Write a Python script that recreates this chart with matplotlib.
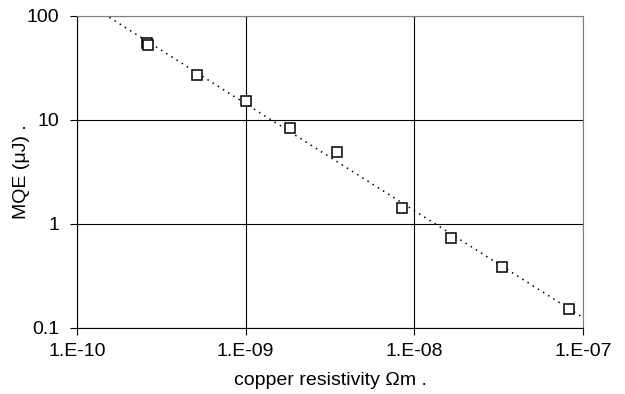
import numpy as np
import matplotlib
matplotlib.use('Agg')
import matplotlib.pyplot as plt

plt.rcParams['font.family'] = ['Liberation Sans', 'DejaVu Sans']

# copper resistivity (Ohm m) vs minimum quench energy (uJ)
resistivity = [2.6e-10, 2.63e-10, 5.15e-10, 1.01e-9, 1.83e-9, 3.49e-9,
               8.45e-9, 1.66e-8, 3.33e-8, 8.26e-8]
mqe = [54.5, 52.5, 27.3, 15.2, 8.4, 4.9, 1.43, 0.74, 0.386, 0.153]

x_ticks = [1e-10, 1e-9, 1e-8, 1e-7]
x_labels = ['1.E-10', '1.E-09', '1.E-08', '1.E-07']
y_ticks = [0.1, 1, 10, 100]
y_labels = ['0.1', '1', '10', '100']

# power law trend line (fit in log space)
b, a = np.polyfit(np.log10(resistivity), np.log10(mqe), 1)
xt = np.logspace(np.log10(1.45e-10), -7, 50)
yt = 10 ** (a + b * np.log10(xt))

fig = plt.figure(figsize=(6.25, 3.94), dpi=100)
ax = fig.add_axes([77 / 625, 1 - 328 / 394, (583 - 77) / 625, (328 - 16) / 394])

ax.plot(xt, yt, color='black', linestyle=(0, (1, 3)), linewidth=1.1)
ax.plot(resistivity, mqe, linestyle='none', marker='s', markersize=7,
        markerfacecolor='white', markeredgecolor='black', markeredgewidth=1.1)

ax.set_xscale('log')
ax.set_yscale('log')
ax.set_xlim(1e-10, 1e-7)
ax.set_ylim(0.1, 100)
ax.set_xticks(x_ticks)
ax.set_xticklabels(x_labels)
ax.set_yticks(y_ticks)
ax.set_yticklabels(y_labels)
ax.minorticks_off()
ax.grid(True, color='black', linewidth=0.8)
ax.set_axisbelow(True)

ax.tick_params(axis='both', labelsize=14, length=5, width=0.8, direction='out')
ax.tick_params(axis='x', pad=6)
ax.tick_params(axis='y', pad=8)
for s in ['top', 'right']:
    ax.spines[s].set_color('#808080')
for s in ['left', 'bottom']:
    ax.spines[s].set_color('black')

ax.set_xlabel('copper resistivity \u03a9m .', fontsize=14)
ax.set_ylabel('MQE (\u03bcJ) .', fontsize=14)
ax.xaxis.set_label_coords(0.5, -0.14)
ax.yaxis.set_label_coords(-0.093, 0.5)

fig.savefig('out.png', dpi=100)
